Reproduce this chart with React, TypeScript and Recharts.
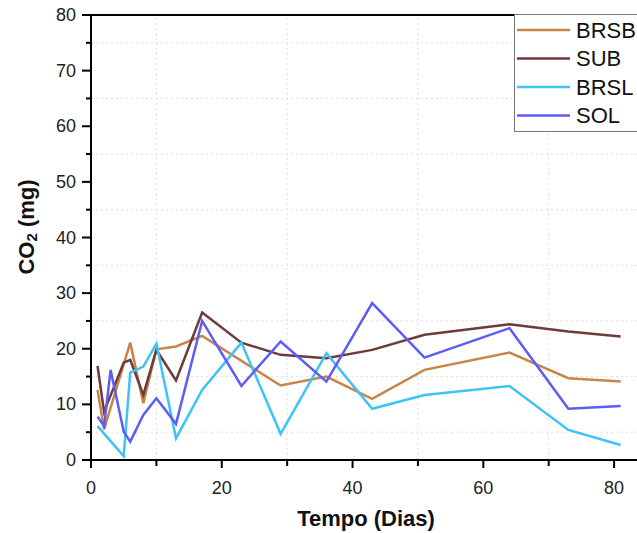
import React from 'react';
import { LineChart, Line, XAxis, YAxis, ReferenceLine, Legend } from 'recharts';

// dias de coleta por série
const diasBRSB = [1, 2, 6, 8, 10, 13, 17, 29, 36, 43, 51, 64, 73, 81];
const valoresBRSB = [12.6, 5.5, 21.1, 10.2, 19.9, 20.4, 22.3, 13.4, 15.0, 11.0, 16.2, 19.3, 14.7, 14.1];

const diasSUB = [1, 2, 5, 6, 8, 10, 13, 17, 23, 29, 36, 43, 51, 64, 73, 81];
const valoresSUB = [16.9, 8.7, 17.5, 18.0, 11.7, 19.8, 14.3, 26.5, 21.1, 18.9, 18.3, 19.8, 22.5, 24.4, 23.1, 22.2];

const diasBRSL = [1, 5, 6, 8, 10, 13, 17, 23, 29, 36, 43, 51, 64, 73, 81];
const valoresBRSL = [6.1, 0.7, 15.7, 16.8, 20.9, 3.9, 12.6, 21.1, 4.7, 19.2, 9.2, 11.7, 13.3, 5.4, 2.7];

const diasSOL = [1, 2, 3, 5, 6, 8, 10, 13, 17, 23, 29, 36, 43, 51, 64, 73, 81];
const valoresSOL = [7.8, 6.1, 16.2, 5.1, 3.3, 8.1, 11.1, 6.5, 25.0, 13.3, 21.3, 14.1, 28.2, 18.4, 23.7, 9.2, 9.7];

const ticksX = [0, 10, 20, 30, 40, 50, 60, 70, 80];
const ticksY = [0, 5, 10, 15, 20, 25, 30, 35, 40, 45, 50, 55, 60, 65, 70, 75, 80];
const gradeX = [10, 30, 50, 70];
const gradeY = [5, 15, 25, 35, 45, 55, 65, 75];

const series = [
  { nome: 'BRSB', cor: '#c8844a', dias: diasBRSB, valores: valoresBRSB },
  { nome: 'SUB', cor: '#6e3b3b', dias: diasSUB, valores: valoresSUB },
  { nome: 'BRSL', cor: '#3ec3f7', dias: diasBRSL, valores: valoresBRSL },
  { nome: 'SOL', cor: '#5c5cf7', dias: diasSOL, valores: valoresSOL },
];

const FONTE = '"Liberation Sans", Arial, sans-serif';

const TickX = ({ x, y, payload }: any) => {
  const maior = payload.value % 20 === 0;
  return (
    <g>
      <line x1={x} x2={x} y1={y} y2={y + (maior ? 8 : 6)} stroke="#000" strokeWidth={2} />
      {maior && (
        <text x={x} y={y + 28} textAnchor="middle" dominantBaseline="central" fontSize={18} fill="#222" fontFamily={FONTE}>
          {payload.value}
        </text>
      )}
    </g>
  );
};

const TickY = ({ x, y, payload }: any) => {
  const maior = payload.value % 10 === 0;
  return (
    <g>
      <line x1={x} x2={x - (maior ? 9 : 5)} y1={y} y2={y} stroke="#000" strokeWidth={2} />
      {maior && (
        <text x={x - 15} y={y} textAnchor="end" dominantBaseline="central" fontSize={18} fill="#222" fontFamily={FONTE}>
          {payload.value}
        </text>
      )}
    </g>
  );
};

const Legenda = () => (
  <svg width={130} height={118} style={{ display: 'block' }}>
    <rect x={0.5} y={0.5} width={140} height={117} fill="#fff" stroke="#777" strokeWidth={1} />
    {series.map((s, i) => (
      <g key={s.nome}>
        <line x1={3} x2={56} y1={16 + i * 28.5} y2={16 + i * 28.5} stroke={s.cor} strokeWidth={2.5} />
        <text x={62} y={16 + i * 28.5} dominantBaseline="central" fontSize={22} fill="#111" fontFamily={FONTE}>
          {s.nome}
        </text>
      </g>
    ))}
  </svg>
);

export default function App() {
  return (
    <div style={{ position: 'absolute', left: 0, top: 0, width: 637, height: 533, overflow: 'hidden', background: '#fff' }}>
      <LineChart width={637} height={533} margin={{ top: 15, right: 0, bottom: 0, left: 0 }}>
        {gradeY.map((v) => (
          <ReferenceLine key={'gy' + v} y={v} stroke="#dedede" strokeDasharray="2 3" />
        ))}
        {gradeX.map((v) => (
          <ReferenceLine key={'gx' + v} x={v} stroke="#dedede" strokeDasharray="2 3" />
        ))}
        <XAxis
          type="number"
          dataKey="d"
          domain={[0, 83.5]}
          ticks={ticksX}
          interval={0}
          height={73}
          tickSize={0}
          tickMargin={0}
          tickLine={false}
          axisLine={{ stroke: '#000', strokeWidth: 2 }}
          tick={<TickX />}
          allowDuplicatedCategory={false}
          label={{
            content: () => (
              <text x={366} y={518} textAnchor="middle" dominantBaseline="central" fontSize={22} fontWeight="bold" fill="#111" fontFamily={FONTE}>
                Tempo (Dias)
              </text>
            ),
          }}
        />
        <YAxis
          type="number"
          domain={[0, 80]}
          ticks={ticksY}
          interval={0}
          width={91}
          tickSize={0}
          tickMargin={0}
          tickLine={false}
          axisLine={{ stroke: '#000', strokeWidth: 2 }}
          tick={<TickY />}
          label={{
            content: () => (
              <text transform="translate(26,227) rotate(-90)" textAnchor="middle" dominantBaseline="central" fontSize={22} fontWeight="bold" fill="#111" fontFamily={FONTE}>
                CO<tspan dy={5} fontSize={15}>2</tspan>
                <tspan dy={-5}> (mg)</tspan>
              </text>
            ),
          }}
        />
        <ReferenceLine y={80} stroke="#000" strokeWidth={2} />
        {series.map((s) => (
          <Line
            key={s.nome}
            name={s.nome}
            data={s.dias.map((d, i) => ({ d, v: s.valores[i] }))}
            dataKey="v"
            type="linear"
            stroke={s.cor}
            strokeWidth={2.5}
            dot={false}
            activeDot={false}
            isAnimationActive={false}
          />
        ))}
        <Legend
          layout="horizontal"
          verticalAlign="middle"
          align="center"
          content={() => <Legenda />}
          wrapperStyle={{ position: 'absolute', left: 514, top: 14, width: 130, height: 118 }}
        />
      </LineChart>
    </div>
  );
}
